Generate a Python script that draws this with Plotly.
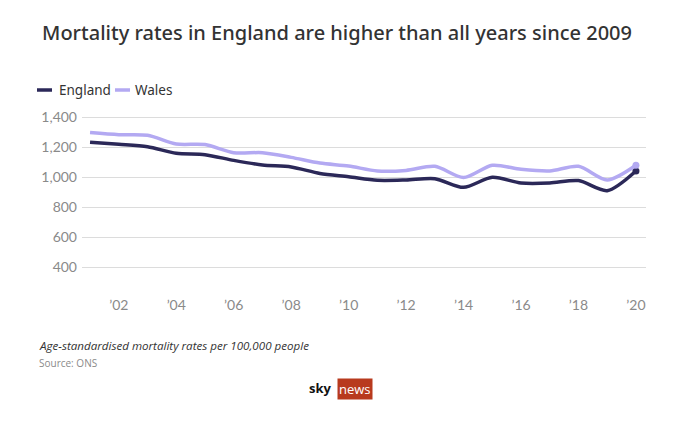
import plotly.graph_objects as go

years = list(range(2001, 2021))
england = [1231, 1218, 1202, 1158, 1149, 1111, 1080, 1067, 1024, 1002,
           978, 980, 989, 931, 998, 960, 960, 976, 909, 1040]
wales = [1296, 1282, 1278, 1220, 1216, 1162, 1162, 1131, 1093, 1073,
         1040, 1044, 1071, 996, 1078, 1051, 1040, 1071, 980, 1078]
series_names = ["England", "Wales"]
x_tickvals = list(range(2002, 2021, 2))
x_ticktext = ["\u2019" + str(y)[2:] for y in x_tickvals]
y_tickvals = [400, 600, 800, 1000, 1200, 1400]

ENG = "#2b2858"
WAL = "#b3a9f2"
colors = [ENG, WAL]

fig = go.Figure()
for name, vals, col in zip(series_names, [england, wales], colors):
    fig.add_trace(go.Scatter(
        x=years, y=vals, name=name, mode="lines",
        line=dict(color=col, width=3.5, shape="spline", smoothing=0.8),
        showlegend=False))
    fig.add_trace(go.Scatter(x=years[-1:], y=vals[-1:], mode="markers",
                             marker=dict(color=col, size=7), showlegend=False))

fig.update_layout(
    width=674, height=439,
    margin=dict(l=82, r=28, t=105, b=149),
    paper_bgcolor="white", plot_bgcolor="white",
    font=dict(family="Open Sans", color="#333"),
    title=dict(text="Mortality rates in England are higher than all years since 2009",
               x=0.5, xanchor="center", y=1 - 33 / 439, yanchor="middle",
               font=dict(family="Noto Sans", size=20, weight=500, color="#333333")),
    xaxis=dict(range=[2000.72, 2020.35], tickvals=x_tickvals, ticktext=x_ticktext,
               showgrid=False, zeroline=False, showline=False, ticks="",
               ticklabelstandoff=5,
               tickfont=dict(family="Lato", size=14, color="#8a8a8a")),
    yaxis=dict(range=[246.7, 1480], tickvals=y_tickvals, tickformat=",",
               showgrid=True, gridcolor="#dcdcdc", gridwidth=1, zeroline=False,
               showline=False, ticks="", ticklabelstandoff=4,
               tickfont=dict(family="Lato", size=14, color="#8a8a8a")),
    showlegend=False,
)

def py(Y):
    return 1 - (Y - 105) / 185

def px(X):
    return (X - 82) / 564

# custom legend (short line + label)
legend_pos = [(37, 57), (115, 133)]
for name, col, (lx, tx) in zip(series_names, colors, legend_pos):
    fig.add_shape(type="line", xref="paper", yref="paper",
                  x0=px(lx), x1=px(lx + 15), y0=py(90), y1=py(90),
                  line=dict(color=col, width=3.5))
    fig.add_annotation(text=name, xref="paper", yref="paper",
                       x=px(tx), y=py(90), xanchor="left", yanchor="middle",
                       showarrow=False,
                       font=dict(family="Noto Sans", size=13.5, color="#333333"))

fig.add_annotation(text="<i>Age-standardised mortality rates per 100,000 people</i>",
                   xref="paper", yref="paper", x=px(37), y=py(345),
                   xanchor="left", yanchor="middle", showarrow=False,
                   font=dict(family="Open Sans", size=11.6, color="#333333"))
fig.add_annotation(text="Source: ONS",
                   xref="paper", yref="paper", x=px(37), y=py(363),
                   xanchor="left", yanchor="middle", showarrow=False,
                   font=dict(family="Open Sans", size=10, color="#8a8a8a"))
fig.add_annotation(text="<b>sky</b>",
                   xref="paper", yref="paper", x=px(334), y=py(388),
                   xanchor="right", yanchor="middle", showarrow=False,
                   font=dict(family="Open Sans", size=13, color="#111111"))
fig.add_annotation(text="news",
                   xref="paper", yref="paper", x=px(355), y=py(389),
                   xanchor="center", yanchor="middle", showarrow=False,
                   bgcolor="#b83a1e", borderpad=1,
                   font=dict(family="Open Sans", size=13, color="white"))

fig.write_html("out.html")
